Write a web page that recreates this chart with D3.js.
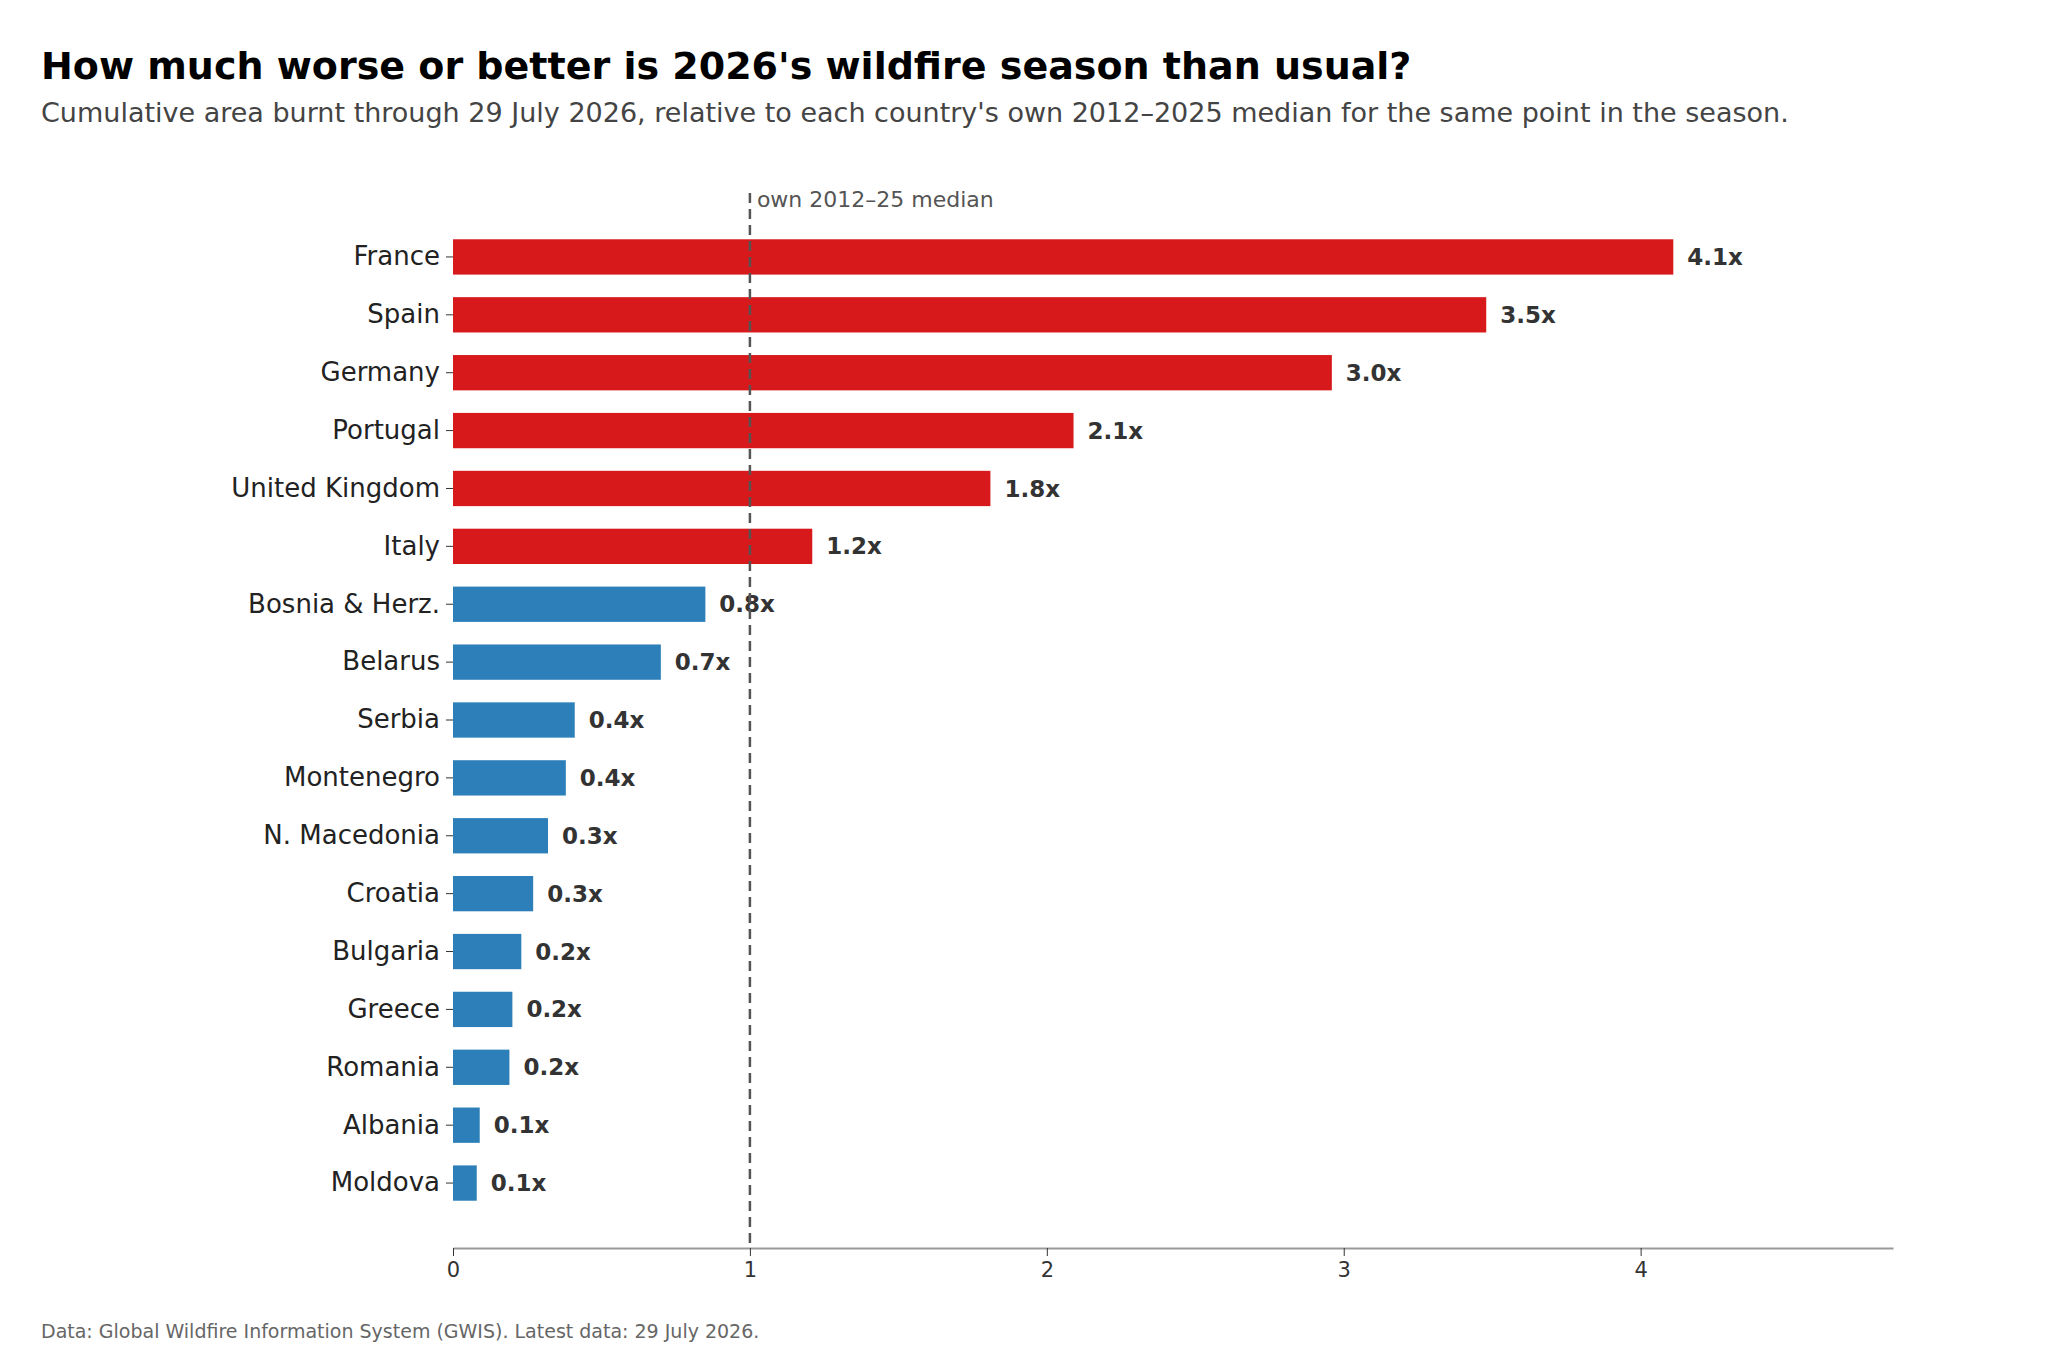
<!DOCTYPE html>
<html>
<head>
<meta charset="utf-8">
<script src="https://d3js.org/d3.v7.min.js"></script>
<style>
  body { margin: 0; background: #fff; }
  text { font-family: "DejaVu Sans", sans-serif; }
</style>
</head>
<body>
<svg id="chart" width="2048" height="1365"></svg>
<script>
// data
const countries = ["France", "Spain", "Germany", "Portugal", "United Kingdom", "Italy",
  "Bosnia & Herz.", "Belarus", "Serbia", "Montenegro", "N. Macedonia", "Croatia",
  "Bulgaria", "Greece", "Romania", "Albania", "Moldova"];
const ratios = [4.11, 3.48, 2.96, 2.09, 1.81, 1.21, 0.85, 0.70, 0.41, 0.38, 0.32,
  0.27, 0.23, 0.20, 0.19, 0.09, 0.08];
const xTicks = [0, 1, 2, 3, 4];

const data = countries.map((c, i) => ({ country: c, value: ratios[i] }));

const svg = d3.select("#chart");
const left = 453, right = 1893, axisY = 1248;

const x = d3.scaleLinear().domain([0, 4.85]).range([left, right]);
const y = d3.scaleBand().domain(countries).range([228, 1212]).paddingInner(0.39).paddingOuter(0.195);

svg.append("text").attr("x", 41).attr("y", 79)
  .attr("font-size", 38).attr("font-weight", "bold").attr("fill", "#000")
  .text("How much worse or better is 2026's wildfire season than usual?");
svg.append("text").attr("x", 41).attr("y", 122)
  .attr("font-size", 27).attr("fill", "#444")
  .text("Cumulative area burnt through 29 July 2026, relative to each country's own 2012\u20132025 median for the same point in the season.");

svg.selectAll("rect.bar").data(data).enter().append("rect")
  .attr("class", "bar")
  .attr("x", x(0))
  .attr("y", d => y(d.country))
  .attr("width", d => x(d.value) - x(0))
  .attr("height", y.bandwidth())
  .attr("fill", d => d.value >= 1 ? "#d7191c" : "#2c7fb8");

svg.selectAll("text.val").data(data).enter().append("text")
  .attr("class", "val")
  .attr("x", d => x(d.value) + 14)
  .attr("y", d => y(d.country) + y.bandwidth() / 2)
  .attr("dy", "0.35em")
  .attr("font-size", 23).attr("font-weight", "bold").attr("fill", "#333")
  .text(d => d.value.toFixed(1) + "x");

// y axis labels
const yAxis = svg.append("g").attr("transform", `translate(${left},0)`)
  .call(d3.axisLeft(y).tickSize(7).tickPadding(6));
yAxis.select(".domain").remove();
yAxis.selectAll("line").attr("stroke", "#333");
yAxis.selectAll("text").attr("font-size", 26).attr("fill", "#222")
  .attr("font-family", "DejaVu Sans, sans-serif");

// x axis
const xAxis = svg.append("g").attr("transform", `translate(0,${axisY})`)
  .call(d3.axisBottom(x).tickValues(xTicks).tickFormat(d3.format("d")).tickSize(8).tickPadding(6).tickSizeOuter(0));
xAxis.select(".domain").attr("stroke", "#999").attr("stroke-width", 2);
xAxis.selectAll("line").attr("stroke", "#333");
xAxis.selectAll("text").attr("font-size", 21).attr("fill", "#333")
  .attr("font-family", "DejaVu Sans, sans-serif");

// reference line
svg.append("line").attr("x1", x(1)).attr("x2", x(1)).attr("y1", 193).attr("y2", axisY)
  .attr("stroke", "#555").attr("stroke-width", 2.5).attr("stroke-dasharray", "10,6");
svg.append("text").attr("x", x(1) + 7).attr("y", 207)
  .attr("font-size", 22).attr("fill", "#555").text("own 2012\u201325 median");

svg.append("text").attr("x", 41).attr("y", 1338)
  .attr("font-size", 19).attr("fill", "#666")
  .text("Data: Global Wildfire Information System (GWIS). Latest data: 29 July 2026.");
</script>
</body>
</html>
